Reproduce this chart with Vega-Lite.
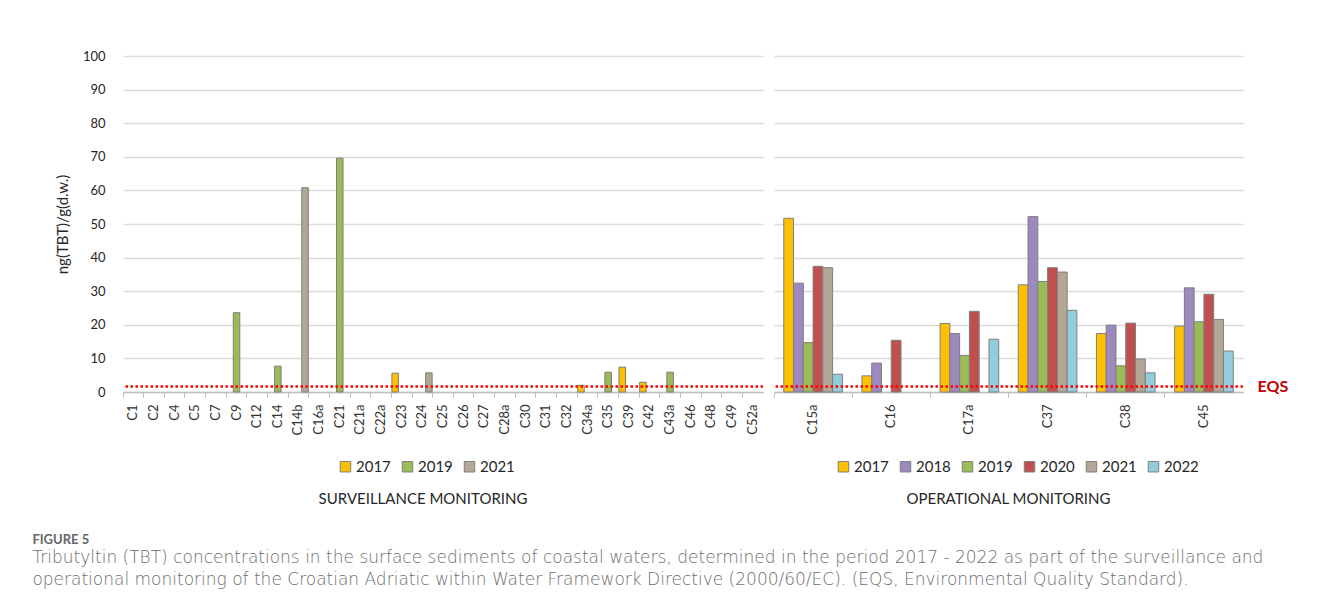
{
  "$schema": "https://vega.github.io/schema/vega-lite/v6.json",
  "background": "white",
  "padding": {"left": 32, "top": 50, "right": 20, "bottom": 10},
  "datasets": {
    "surveillance": [
      {"site": "C9", "year": "2019", "tbt": 23.6},
      {"site": "C14", "year": "2019", "tbt": 7.7},
      {"site": "C14b", "year": "2021", "tbt": 60.8},
      {"site": "C21", "year": "2019", "tbt": 69.6},
      {"site": "C23", "year": "2017", "tbt": 5.6},
      {"site": "C24", "year": "2021", "tbt": 5.7},
      {"site": "C34a", "year": "2017", "tbt": 2.0},
      {"site": "C35", "year": "2019", "tbt": 5.9},
      {"site": "C39", "year": "2017", "tbt": 7.4},
      {"site": "C42", "year": "2017", "tbt": 2.9},
      {"site": "C43a", "year": "2019", "tbt": 5.9}
    ],
    "operational": [
      {"site": "C15a", "year": "2017", "tbt": 51.7},
      {"site": "C15a", "year": "2018", "tbt": 32.4},
      {"site": "C15a", "year": "2019", "tbt": 14.7},
      {"site": "C15a", "year": "2020", "tbt": 37.4},
      {"site": "C15a", "year": "2021", "tbt": 37.0},
      {"site": "C15a", "year": "2022", "tbt": 5.3},
      {"site": "C16", "year": "2017", "tbt": 4.8},
      {"site": "C16", "year": "2018", "tbt": 8.6},
      {"site": "C16", "year": "2020", "tbt": 15.4},
      {"site": "C17a", "year": "2017", "tbt": 20.4},
      {"site": "C17a", "year": "2018", "tbt": 17.4},
      {"site": "C17a", "year": "2019", "tbt": 10.9},
      {"site": "C17a", "year": "2020", "tbt": 24.0},
      {"site": "C17a", "year": "2022", "tbt": 15.7},
      {"site": "C37", "year": "2017", "tbt": 31.9},
      {"site": "C37", "year": "2018", "tbt": 52.2},
      {"site": "C37", "year": "2019", "tbt": 32.9},
      {"site": "C37", "year": "2020", "tbt": 37.0},
      {"site": "C37", "year": "2021", "tbt": 35.7},
      {"site": "C37", "year": "2022", "tbt": 24.3},
      {"site": "C38", "year": "2017", "tbt": 17.4},
      {"site": "C38", "year": "2018", "tbt": 19.9},
      {"site": "C38", "year": "2019", "tbt": 7.8},
      {"site": "C38", "year": "2020", "tbt": 20.5},
      {"site": "C38", "year": "2021", "tbt": 9.8},
      {"site": "C38", "year": "2022", "tbt": 5.7},
      {"site": "C45", "year": "2017", "tbt": 19.6},
      {"site": "C45", "year": "2018", "tbt": 31.0},
      {"site": "C45", "year": "2019", "tbt": 20.9},
      {"site": "C45", "year": "2020", "tbt": 29.1},
      {"site": "C45", "year": "2021", "tbt": 21.6},
      {"site": "C45", "year": "2022", "tbt": 12.2}
    ],
    "eqs": [
      {"label": "EQS", "tbt": 1.6}
    ]
  },
  "title": {
    "text": "FIGURE 5",
    "subtitle": [
      "Tributyltin (TBT) concentrations in the surface sediments of coastal waters, determined in the period 2017 - 2022 as part of the surveillance and",
      "operational monitoring of the Croatian Adriatic within Water Framework Directive (2000/60/EC). (EQS, Environmental Quality Standard)."
    ],
    "orient": "bottom",
    "anchor": "start",
    "frame": "bounds",
    "dx": -23,
    "offset": 27,
    "font": "Lato",
    "fontSize": 13,
    "fontWeight": "bold",
    "color": "#666666",
    "subtitleFont": "DejaVu Sans",
    "subtitleFontSize": 17,
    "subtitleFontWeight": 200,
    "subtitleColor": "#6e6e6e",
    "subtitleLineHeight": 22,
    "subtitlePadding": 3
  },
  "spacing": 7,
  "resolve": {"scale": {"color": "independent", "xOffset": "independent"}},
  "hconcat": [
    {
      "width": 640,
      "height": 336,
      "title": {"text": "SURVEILLANCE MONITORING", "orient": "bottom", "anchor": "middle", "offset": 17, "dx": -20},
      "layer": [
        {
          "data": {"name": "surveillance"},
          "mark": {"type": "bar", "stroke": "#7f7f7f", "strokeWidth": 1},
          "encoding": {
            "x": {
              "field": "site",
              "type": "nominal",
              "scale": {
                "domain": ["C1", "C2", "C4", "C5", "C7", "C9", "C12", "C14", "C14b", "C16a", "C21", "C21a", "C22a", "C23", "C24", "C25", "C26", "C27", "C28a", "C30", "C31", "C32", "C34a", "C35", "C39", "C42", "C43a", "C46", "C48", "C49", "C52a"],
                "paddingInner": 0,
                "paddingOuter": 0
              },
              "axis": {
                "title": null,
                "labelAngle": -90,
                "bandPosition": 0,
                "tickSize": 5,
                "labelPadding": 7,
                "grid": false
              }
            },
            "xOffset": {
              "field": "year",
              "type": "nominal",
              "scale": {"domain": ["2017", "2019", "2021"], "paddingInner": 0, "paddingOuter": 0.08}
            },
            "y": {
              "field": "tbt",
              "type": "quantitative",
              "scale": {"domain": [0, 100]},
              "axis": {
                "title": "ng(TBT)/g(d.w.)",
                "values": [0, 10, 20, 30, 40, 50, 60, 70, 80, 90, 100],
                "labelOverlap": false,
                "ticks": false,
                "domain": false,
                "labelPadding": 18,
                "titlePadding": 12,
                "titleFontSize": 15,
                "titleFontWeight": "normal",
                "titleColor": "#262626",
                "labelFontSize": 13,
                "labelColor": "#262626"
              }
            },
            "color": {
              "field": "year",
              "type": "nominal",
              "scale": {"domain": ["2017", "2019", "2021"], "range": ["#ffc000", "#9bbb59", "#b3a795"]},
              "legend": {
                "title": null,
                "orient": "none",
                "direction": "horizontal",
                "legendX": 215,
                "legendY": 403,
                "symbolStrokeColor": "#7f7f7f",
                "symbolStrokeWidth": 1
              }
            }
          }
        },
        {
          "data": {"name": "eqs"},
          "mark": {"type": "rule", "color": "#ff0000", "strokeWidth": 2.5, "strokeDash": [2.5, 2.5]},
          "encoding": {
            "y": {
              "field": "tbt",
              "type": "quantitative",
              "axis": {
                "title": "ng(TBT)/g(d.w.)",
                "values": [0, 10, 20, 30, 40, 50, 60, 70, 80, 90, 100],
                "labelOverlap": false,
                "ticks": false,
                "domain": false,
                "labelPadding": 18,
                "titlePadding": 12,
                "titleFontSize": 15,
                "titleFontWeight": "normal",
                "titleColor": "#262626",
                "labelFontSize": 13,
                "labelColor": "#262626"
              }
            }
          }
        }
      ]
    },
    {
      "width": 469,
      "height": 336,
      "title": {"text": "OPERATIONAL MONITORING", "orient": "bottom", "anchor": "middle", "offset": 17},
      "resolve": {"axis": {"y": "independent"}},
      "layer": [
        {
          "data": {"name": "operational"},
          "mark": {"type": "bar", "stroke": "#7f7f7f", "strokeWidth": 1},
          "encoding": {
            "x": {
              "field": "site",
              "type": "nominal",
              "scale": {"domain": ["C15a", "C16", "C17a", "C37", "C38", "C45"], "paddingInner": 0, "paddingOuter": 0},
              "axis": {
                "title": null,
                "labelAngle": -90,
                "bandPosition": 0,
                "tickSize": 5,
                "labelPadding": 7,
                "grid": false
              }
            },
            "xOffset": {
              "field": "year",
              "type": "nominal",
              "scale": {"domain": ["2017", "2018", "2019", "2020", "2021", "2022"], "paddingInner": 0, "paddingOuter": 1.08}
            },
            "y": {
              "field": "tbt",
              "type": "quantitative",
              "scale": {"domain": [0, 100]},
              "axis": {
                "title": null,
                "values": [0, 10, 20, 30, 40, 50, 60, 70, 80, 90, 100],
                "labels": false,
                "ticks": false,
                "domain": false
              }
            },
            "color": {
              "field": "year",
              "type": "nominal",
              "scale": {
                "domain": ["2017", "2018", "2019", "2020", "2021", "2022"],
                "range": ["#ffc000", "#9e88c0", "#9bbb59", "#c0504d", "#b3a795", "#93cddd"]
              },
              "legend": {
                "title": null,
                "orient": "none",
                "direction": "horizontal",
                "legendX": 62,
                "legendY": 403,
                "symbolStrokeColor": "#7f7f7f",
                "symbolStrokeWidth": 1
              }
            }
          }
        },
        {
          "data": {"name": "eqs"},
          "mark": {"type": "rule", "color": "#ff0000", "strokeWidth": 2.5, "strokeDash": [2.5, 2.5]},
          "encoding": {
            "y": {
              "field": "tbt",
              "type": "quantitative",
              "axis": {
                "orient": "right",
                "title": null,
                "values": [1.6],
                "labelExpr": "'EQS'",
                "grid": false,
                "ticks": false,
                "domain": false,
                "labelPadding": 14,
                "labelFontSize": 16,
                "labelFontWeight": "bold",
                "labelColor": "#c00000"
              }
            }
          }
        }
      ]
    }
  ],
  "config": {
    "font": "Lato",
    "view": {"stroke": null},
    "axis": {
      "labelFont": "Lato",
      "titleFont": "Lato",
      "labelFontSize": 13,
      "labelColor": "#333333",
      "gridColor": "#dcdcdc",
      "gridWidth": 1.5,
      "domainColor": "#bfbfbf",
      "domainWidth": 1.5,
      "tickColor": "#bfbfbf"
    },
    "legend": {
      "labelFont": "Lato",
      "labelFontSize": 15,
      "labelColor": "#262626",
      "symbolType": "square",
      "symbolSize": 110,
      "symbolStrokeColor": "#7f7f7f",
      "symbolStrokeWidth": 1,
      "columnPadding": 9,
      "labelOffset": 3
    },
    "title": {
      "font": "Lato",
      "fontSize": 15,
      "fontWeight": "normal",
      "color": "#262626"
    }
  }
}
